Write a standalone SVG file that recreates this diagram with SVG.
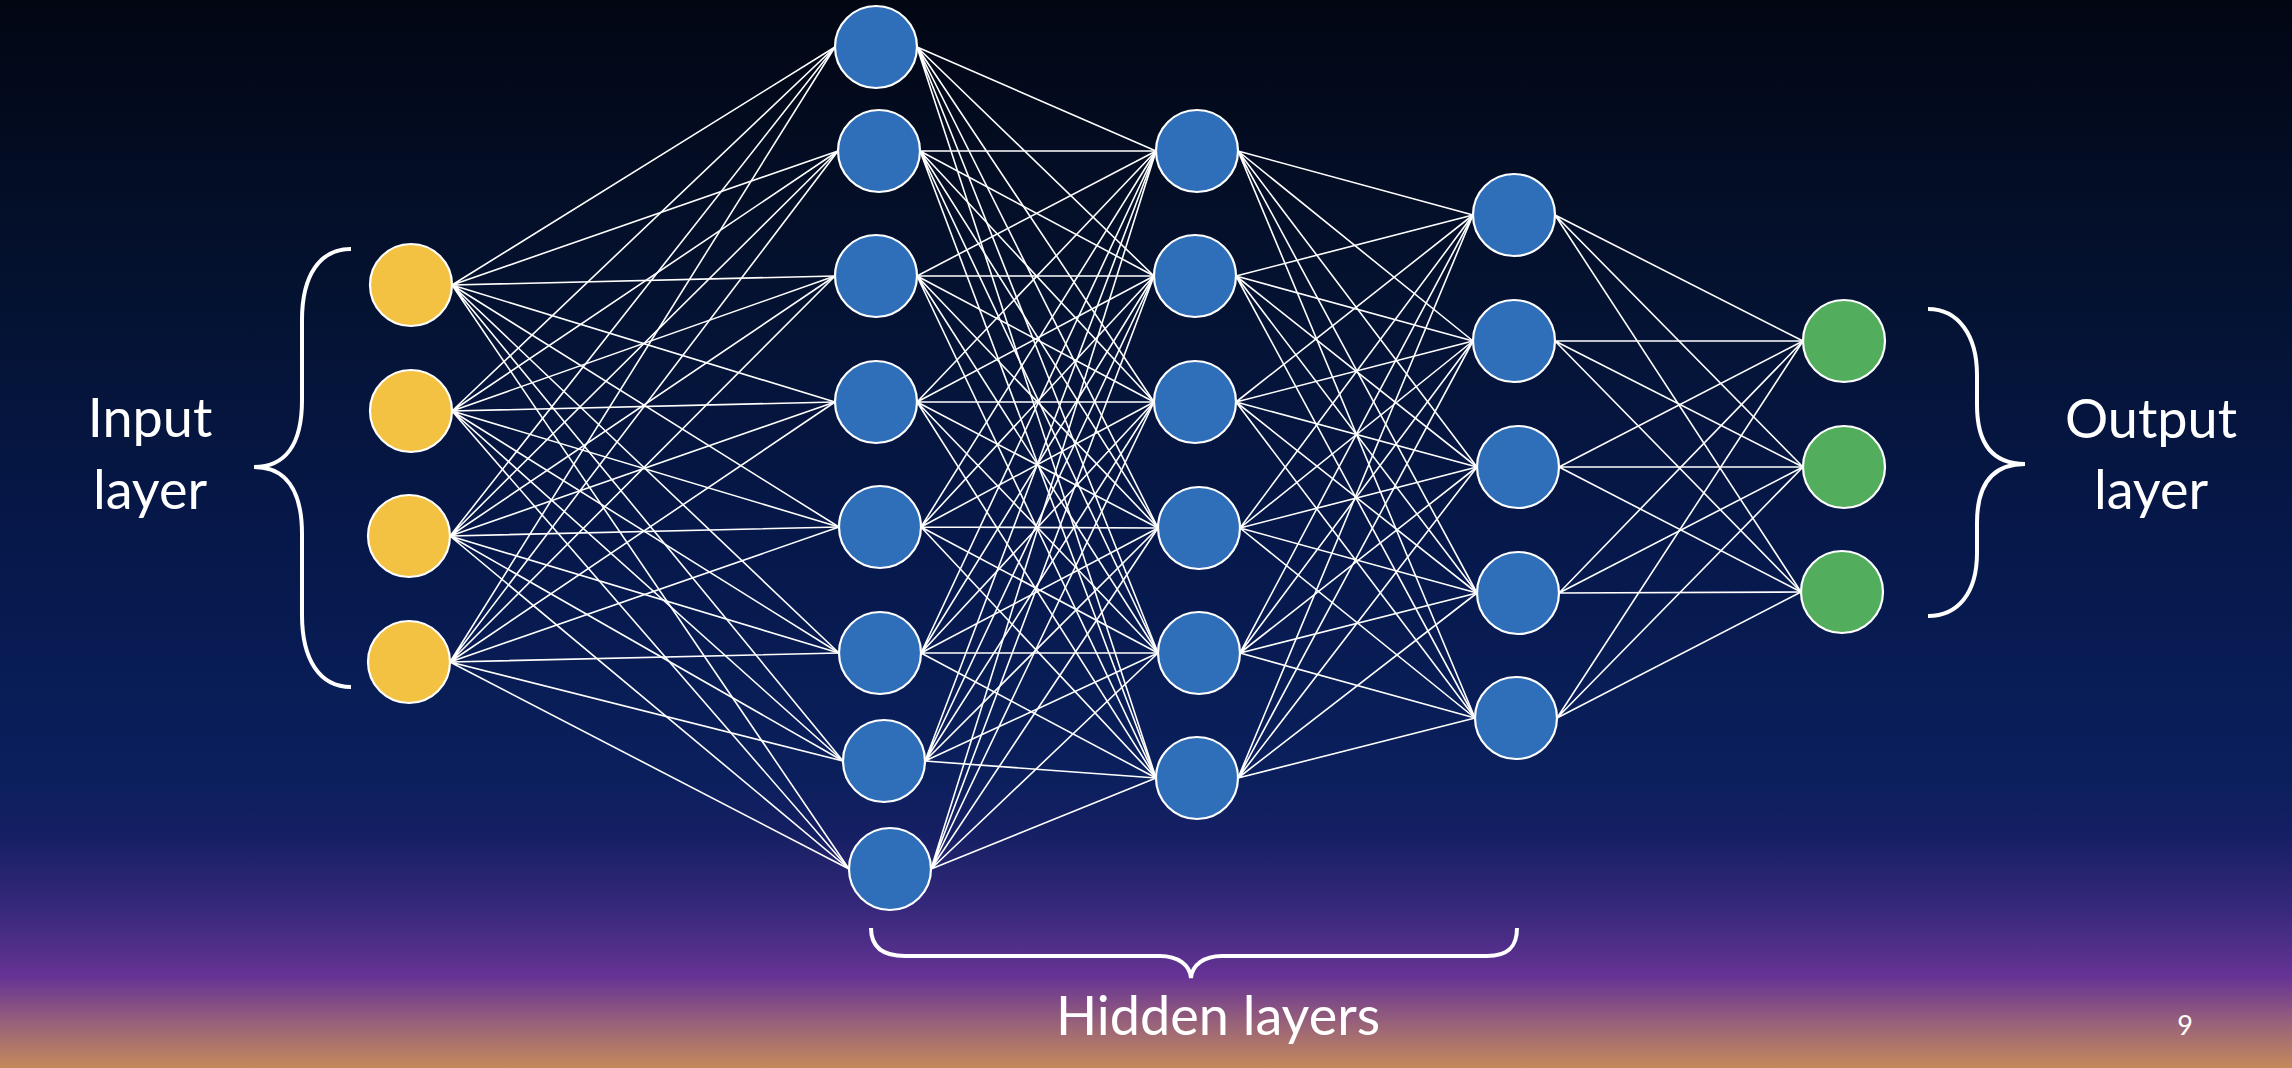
<svg xmlns="http://www.w3.org/2000/svg" width="2292" height="1068" viewBox="0 0 2292 1068">
  <defs>
    <linearGradient id="bg" x1="0" y1="0" x2="0" y2="1">
      <stop offset="0" stop-color="#020613"/>
      <stop offset="0.25" stop-color="#04112e"/>
      <stop offset="0.5" stop-color="#06184a"/>
      <stop offset="0.72" stop-color="#0a1f5c"/>
      <stop offset="0.78" stop-color="#151f63"/>
      <stop offset="0.85" stop-color="#36287b"/>
      <stop offset="0.915" stop-color="#663394"/>
      <stop offset="0.96" stop-color="#9a6478"/>
      <stop offset="1" stop-color="#c4895a"/>
    </linearGradient>
    <style>
      .edge { fill: none; stroke: #ffffff; stroke-width: 1.6; }
      .node circle { stroke: #ffffff; stroke-width: 2.2; }
      .in circle { fill: #f4c243; }
      .hid circle { fill: #2f6fba; }
      .out circle { fill: #52ad5d; }
      .brace { fill: none; stroke: #ffffff; stroke-width: 4; stroke-linecap: butt; }
      .label { fill: #ffffff; font-family: Lato, "Open Sans", "Liberation Sans", sans-serif; font-size: 54px; text-anchor: middle; }
      .page { fill: #ffffff; font-family: Lato, "Liberation Sans", sans-serif; font-size: 27px; text-anchor: middle; }
    </style>
  </defs>

  <rect width="2292" height="1068" fill="url(#bg)"/>

  <!-- weighted connections, fully connected between consecutive layers -->
  <g id="connectors">
    <!-- input -> hidden 1 -->
    <path class="edge" d="M452 285L835 47M452 285L838 151M452 285L835 276M452 285L835 402M452 285L839 527M452 285L839 653M452 285L843 761M452 285L849 869"/>
    <path class="edge" d="M452 411L835 47M452 411L838 151M452 411L835 276M452 411L835 402M452 411L839 527M452 411L839 653M452 411L843 761M452 411L849 869"/>
    <path class="edge" d="M450 536L835 47M450 536L838 151M450 536L835 276M450 536L835 402M450 536L839 527M450 536L839 653M450 536L843 761M450 536L849 869"/>
    <path class="edge" d="M450 662L835 47M450 662L838 151M450 662L835 276M450 662L835 402M450 662L839 527M450 662L839 653M450 662L843 761M450 662L849 869"/>
    <!-- hidden 1 -> hidden 2 -->
    <path class="edge" d="M917 47L1156 151M917 47L1154 276M917 47L1154 402M917 47L1158 528M917 47L1158 653M917 47L1156 778"/>
    <path class="edge" d="M920 151L1156 151M920 151L1154 276M920 151L1154 402M920 151L1158 528M920 151L1158 653M920 151L1156 778"/>
    <path class="edge" d="M917 276L1156 151M917 276L1154 276M917 276L1154 402M917 276L1158 528M917 276L1158 653M917 276L1156 778"/>
    <path class="edge" d="M917 402L1156 151M917 402L1154 276M917 402L1154 402M917 402L1158 528M917 402L1158 653M917 402L1156 778"/>
    <path class="edge" d="M921 527L1156 151M921 527L1154 276M921 527L1154 402M921 527L1158 528M921 527L1158 653M921 527L1156 778"/>
    <path class="edge" d="M921 653L1156 151M921 653L1154 276M921 653L1154 402M921 653L1158 528M921 653L1158 653M921 653L1156 778"/>
    <path class="edge" d="M925 761L1156 151M925 761L1154 276M925 761L1154 402M925 761L1158 528M925 761L1158 653M925 761L1156 778"/>
    <path class="edge" d="M931 869L1156 151M931 869L1154 276M931 869L1154 402M931 869L1158 528M931 869L1158 653M931 869L1156 778"/>
    <!-- hidden 2 -> hidden 3 -->
    <path class="edge" d="M1238 151L1473 215M1238 151L1473 341M1238 151L1477 467M1238 151L1477 593M1238 151L1475 718"/>
    <path class="edge" d="M1236 276L1473 215M1236 276L1473 341M1236 276L1477 467M1236 276L1477 593M1236 276L1475 718"/>
    <path class="edge" d="M1236 402L1473 215M1236 402L1473 341M1236 402L1477 467M1236 402L1477 593M1236 402L1475 718"/>
    <path class="edge" d="M1240 528L1473 215M1240 528L1473 341M1240 528L1477 467M1240 528L1477 593M1240 528L1475 718"/>
    <path class="edge" d="M1240 653L1473 215M1240 653L1473 341M1240 653L1477 467M1240 653L1477 593M1240 653L1475 718"/>
    <path class="edge" d="M1238 778L1473 215M1238 778L1473 341M1238 778L1477 467M1238 778L1477 593M1238 778L1475 718"/>
    <!-- hidden 3 -> output -->
    <path class="edge" d="M1555 215L1803 341M1555 215L1803 467M1555 215L1801 592"/>
    <path class="edge" d="M1555 341L1803 341M1555 341L1803 467M1555 341L1801 592"/>
    <path class="edge" d="M1559 467L1803 341M1559 467L1803 467M1559 467L1801 592"/>
    <path class="edge" d="M1559 593L1803 341M1559 593L1803 467M1559 593L1801 592"/>
    <path class="edge" d="M1557 718L1803 341M1557 718L1803 467M1557 718L1801 592"/>
  </g>

  <!-- input layer -->
  <g id="in1" class="node in"><circle cx="411" cy="285" r="41"/></g>
  <g id="in2" class="node in"><circle cx="411" cy="411" r="41"/></g>
  <g id="in3" class="node in"><circle cx="409" cy="536" r="41"/></g>
  <g id="in4" class="node in"><circle cx="409" cy="662" r="41"/></g>

  <!-- hidden layer 1 -->
  <g id="h1_1" class="node hid"><circle cx="876" cy="47" r="41"/></g>
  <g id="h1_2" class="node hid"><circle cx="879" cy="151" r="41"/></g>
  <g id="h1_3" class="node hid"><circle cx="876" cy="276" r="41"/></g>
  <g id="h1_4" class="node hid"><circle cx="876" cy="402" r="41"/></g>
  <g id="h1_5" class="node hid"><circle cx="880" cy="527" r="41"/></g>
  <g id="h1_6" class="node hid"><circle cx="880" cy="653" r="41"/></g>
  <g id="h1_7" class="node hid"><circle cx="884" cy="761" r="41"/></g>
  <g id="h1_8" class="node hid"><circle cx="890" cy="869" r="41"/></g>

  <!-- hidden layer 2 -->
  <g id="h2_1" class="node hid"><circle cx="1197" cy="151" r="41"/></g>
  <g id="h2_2" class="node hid"><circle cx="1195" cy="276" r="41"/></g>
  <g id="h2_3" class="node hid"><circle cx="1195" cy="402" r="41"/></g>
  <g id="h2_4" class="node hid"><circle cx="1199" cy="528" r="41"/></g>
  <g id="h2_5" class="node hid"><circle cx="1199" cy="653" r="41"/></g>
  <g id="h2_6" class="node hid"><circle cx="1197" cy="778" r="41"/></g>

  <!-- hidden layer 3 -->
  <g id="h3_1" class="node hid"><circle cx="1514" cy="215" r="41"/></g>
  <g id="h3_2" class="node hid"><circle cx="1514" cy="341" r="41"/></g>
  <g id="h3_3" class="node hid"><circle cx="1518" cy="467" r="41"/></g>
  <g id="h3_4" class="node hid"><circle cx="1518" cy="593" r="41"/></g>
  <g id="h3_5" class="node hid"><circle cx="1516" cy="718" r="41"/></g>

  <!-- output layer -->
  <g id="out1" class="node out"><circle cx="1844" cy="341" r="41"/></g>
  <g id="out2" class="node out"><circle cx="1844" cy="467" r="41"/></g>
  <g id="out3" class="node out"><circle cx="1842" cy="592" r="41"/></g>

  <!-- braces and labels -->
  <g id="input-label">
    <path class="brace" d="M351 249 C320 249 302 275 302 320 L302 400 C302 445 285 467 254 467 C285 467 302 489 302 534 L302 615 C302 660 320 687 351 687"/>
    <text class="label" x="150" y="437">Input</text>
    <text class="label" x="150" y="509">layer</text>
  </g>
  <g id="output-label">
    <path class="brace" d="M1928 309 C1958 309 1977 335 1977 375 L1977 405 C1977 445 1994 464 2025 464 C1994 464 1977 483 1977 523 L1977 553 C1977 593 1958 616 1928 616"/>
    <text class="label" x="2151" y="438">Output</text>
    <text class="label" x="2151" y="509">layer</text>
  </g>
  <g id="hidden-label">
    <path class="brace" d="M871 928 C871 945 880 956 905 956 L1160 956 C1178 956 1190 965 1191 978 C1192 965 1204 956 1222 956 L1487 956 C1510 956 1517 945 1517 928"/>
    <text class="label" x="1218" y="1035">Hidden layers</text>
  </g>

  <text class="page" x="2185" y="1035">9</text>
</svg>
